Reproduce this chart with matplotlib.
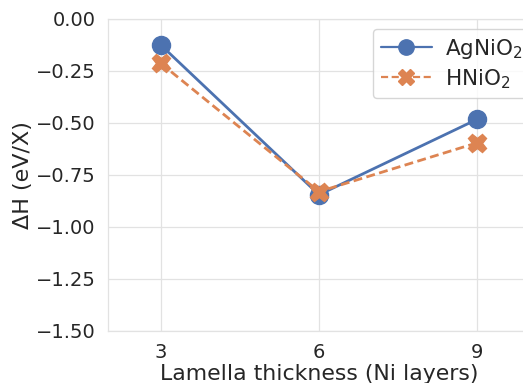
import matplotlib
matplotlib.use("Agg")
import matplotlib.pyplot as plt
import seaborn as sns

# values
thickness = [3, 6, 9]
agnio2 = [-0.125, -0.845, -0.482]
hnio2 = [-0.213, -0.830, -0.595]

sns.set_theme(style="whitegrid")
plt.rcParams['font.family'] = ['DejaVu Sans']

fig = plt.figure(figsize=(5.23, 3.83), dpi=100)
ax = fig.add_axes([108 / 523, 52 / 383, 422 / 523, 312 / 383])

ax.plot(thickness, agnio2, color="#4C72B0", marker="o", markersize=13,
        linewidth=2.0, label="AgNiO$_2$")
ax.plot(thickness, hnio2, color="#DD8452", marker="X", markersize=13,
        linewidth=2.0, linestyle=(0, (3.2, 1.6)), label="HNiO$_2$")

ax.set_xlim(2, 10)
ax.set_ylim(-1.5, 0.0)
ax.set_xticks(thickness)
ax.set_yticks([0.0, -0.25, -0.5, -0.75, -1.0, -1.25, -1.5])
ax.tick_params(labelsize=14, pad=3)
ax.set_xlabel("Lamella thickness (Ni layers)", fontsize=15.8, labelpad=1)
ax.set_ylabel("ΔH (eV/X)", fontsize=16, labelpad=2)

ax.grid(color="#e2e2e2", linewidth=0.9)
for s in ax.spines.values():
    s.set_color("#e2e2e2")
    s.set_linewidth(0.9)

leg = ax.legend(loc="upper left", bbox_to_anchor=((373 - 108) / 422, 1 - 10 / 312),
                bbox_transform=ax.transAxes, fontsize=15.5, handlelength=2.4,
                borderaxespad=0, labelspacing=0.3, borderpad=0.35,
                handletextpad=0.6, markerscale=0.85)
for line in leg.get_lines():
    line.set_linewidth(1.6)

fig.savefig("out.png", dpi=100)
